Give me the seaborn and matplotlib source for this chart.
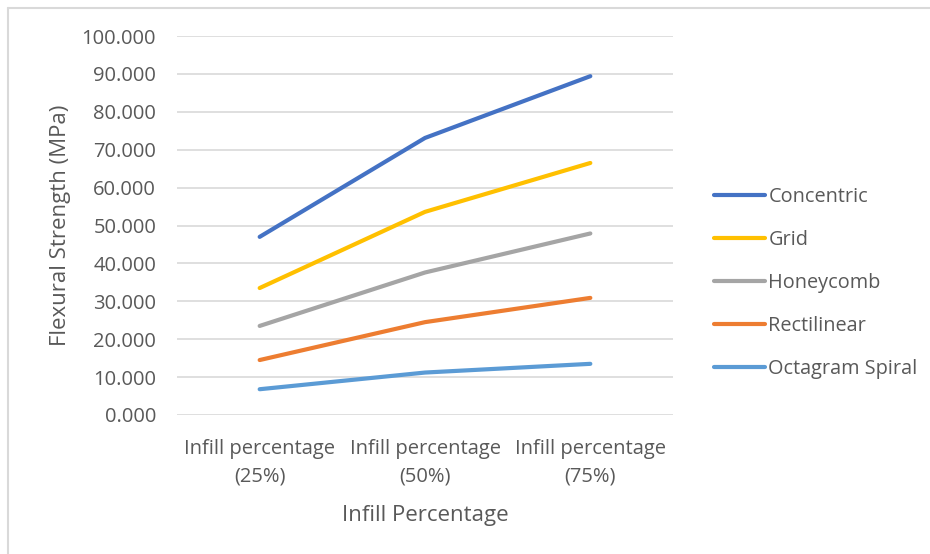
import matplotlib
matplotlib.use("Agg")
import matplotlib.pyplot as plt
import seaborn as sns
import pandas as pd
from matplotlib.lines import Line2D

# Flexural strength (MPa) by infill pattern and infill percentage
categories = ["Infill percentage\n(25%)", "Infill percentage\n(50%)", "Infill percentage\n(75%)"]
patterns = ["Concentric", "Grid", "Honeycomb", "Rectilinear", "Octagram Spiral"]
concentric = [47.0, 73.1, 89.4]
grid = [33.5, 53.6, 66.5]
honeycomb = [23.5, 37.6, 47.9]
rectilinear = [14.5, 24.5, 30.9]
octagram_spiral = [6.8, 11.2, 13.5]
colors = ["#4472C4", "#FFC000", "#A5A5A5", "#ED7D31", "#5B9BD5"]
y_ticks = [0, 10, 20, 30, 40, 50, 60, 70, 80, 90, 100]

series = [concentric, grid, honeycomb, rectilinear, octagram_spiral]
df = pd.DataFrame(
    [(cat, pat, val)
     for pat, vals in zip(patterns, series)
     for cat, val in zip(categories, vals)],
    columns=["Infill", "Pattern", "Strength"],
)

sns.set_theme(style="white")
plt.rcParams["font.family"] = ["Open Sans", "DejaVu Sans"]
text_color = "#595959"

fig = plt.figure(figsize=(9.30, 5.54), dpi=100)
ax = fig.add_axes([177 / 930, 1 - 415 / 554, 496 / 930, 379 / 554])

sns.lineplot(
    data=df, x="Infill", y="Strength", hue="Pattern",
    hue_order=patterns[::-1], palette=colors[::-1],
    linewidth=3.0, ax=ax, legend=False, sort=False,
)
for ln in ax.get_lines():
    ln.set_solid_capstyle("round")
    ln.set_solid_joinstyle("round")

ax.set_xlim(-0.5, 2.5)
ax.set_ylim(0, 100)
ax.set_yticks(y_ticks)
ax.set_yticklabels([f"{v:.3f}" for v in y_ticks])
ax.yaxis.grid(True, color="#D9D9D9", linewidth=1.2)
ax.set_axisbelow(True)
for s in ax.spines.values():
    s.set_visible(False)
ax.tick_params(axis="both", length=0, labelsize=14.5, colors=text_color)
ax.tick_params(axis="y", pad=15)
ax.tick_params(axis="x", pad=17)
for lbl in ax.get_xticklabels():
    lbl.set_linespacing(1.55)

ax.set_xlabel("Infill Percentage", fontsize=16, color=text_color, labelpad=13)
ax.set_ylabel("Flexural Strength (MPa)", fontsize=16, color=text_color, labelpad=8)

handles = [Line2D([0], [0], color=c, linewidth=3.0, solid_capstyle="round") for c in colors]
leg = fig.legend(
    handles, patterns, loc="center left", bbox_to_anchor=(696 / 930, 1 - 283 / 554),
    frameon=False, fontsize=14.3, handlelength=2.55, handletextpad=0.2,
    labelspacing=1.15, labelcolor=text_color,
)

# Chart area border (top and left edges)
fig.add_artist(Line2D([8 / 930, 8 / 930], [0, 1 - 8 / 554], color="#D9D9D9", linewidth=1.5))
fig.add_artist(Line2D([8 / 930, 1], [1 - 8 / 554, 1 - 8 / 554], color="#D9D9D9", linewidth=1.5))

fig.savefig("out.png", dpi=100, facecolor="white")
